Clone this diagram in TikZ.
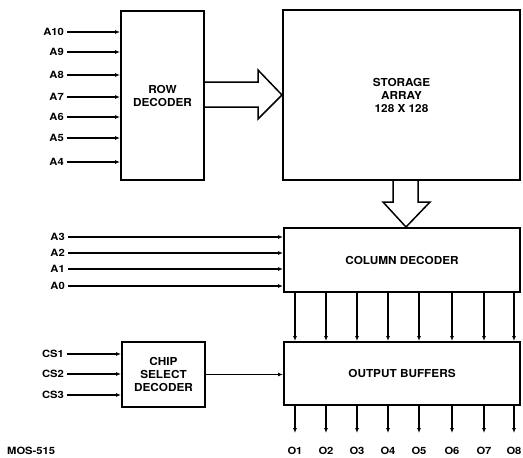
\documentclass[tikz,border=0pt]{standalone}
\usepackage{fontspec}
\usepackage{tikz}
\usetikzlibrary{arrows.meta,calc}
\newfontfamily\heros{TeX Gyre Heros}[FakeStretch=1.12]
\newfontfamily\herosblk{TeX Gyre Heros}[FakeStretch=1.07]
\newcommand\blkfont{\herosblk\bfseries\fontsize{11}{13}\selectfont}
\newcommand\pinfont{\heros\bfseries\fontsize{10}{12}\selectfont}

\begin{document}
\begin{tikzpicture}[x=1pt,y=-1pt,
  % the five blocks of the memory
  blockbox/.style={draw, line width=2pt, inner sep=0pt, align=center, font=\blkfont},
  % pin names at the left and bottom
  pinlbl/.style={anchor=east, inner xsep=3pt, inner ysep=0pt, font=\pinfont},
  sig/.style={line width=1.4pt, -{Latex[length=5pt,width=4pt]}},
  fatarrow/.style={line width=1.5pt, line join=miter},
]
\useasboundingbox (0,0) rectangle (523,458);

\node[blockbox, minimum width=83pt, minimum height=169pt] (rowdec) at (162.5,95.5) {ROW\\DECODER};
\node[blockbox, minimum width=237pt, minimum height=170pt] (storage) at (401.5,95) {STORAGE\\ARRAY\\128 X 128};
\node[blockbox, minimum width=236pt, minimum height=64pt] (coldec) at (402,260) {COLUMN DECODER};
\node[blockbox, minimum width=236pt, minimum height=63pt] (outbuf) at (402,373.5) {OUTPUT BUFFERS};
\node[blockbox, minimum width=83pt, minimum height=65pt] (chipsel) at (163.5,374.5) {CHIP\\SELECT\\DECODER};

% row address pins
\foreach \nm/\yy in {A10/32,A9/52,A8/75,A7/97,A6/117,A5/138,A4/162} {
  \node[pinlbl] (\nm) at (67,\yy) {\nm};
  \draw[sig] (\nm.east) -- (rowdec.west |- \nm.east);
}
% column address pins
\foreach \nm/\yy in {A3/237,A2/253,A1/269,A0/286} {
  \node[pinlbl] (\nm) at (68,\yy) {\nm};
  \draw[sig] (\nm.east) -- (coldec.west |- \nm.east);
}
% chip select pins
\foreach \nm/\yy in {CS1/354,CS2/374,CS3/395} {
  \node[pinlbl] (\nm) at (67,\yy) {\nm};
  \draw[sig] (\nm.east) -- (chipsel.west |- \nm.east);
}
\draw[sig, line width=1pt] (chipsel.east) -- (outbuf.west |- chipsel.east);

% data lines and outputs
\foreach \i/\xx in {1/295,2/326,3/357,4/388,5/419,6/452,7/484,8/514} {
  \node[font=\pinfont, inner sep=0pt] (O\i) at (\xx,451) {O\i};
  \coordinate (e\i) at (\xx,433);
  \draw[sig] (coldec.south -| O\i) -- (outbuf.north -| O\i);
  \draw[sig] (outbuf.south -| O\i) -- (e\i);
}

% wide arrows between blocks
\draw[fatarrow] (rowdec.east |- 0,82) -- (258,82) -- (258,70) -- (storage.west |- 0,95)
  -- (258,119) -- (258,107) -- (rowdec.east |- 0,107);
\draw[fatarrow] (393,0 |- storage.south) -- (393,202) -- (383,202) -- (406,0 |- coldec.north)
  -- (430,202) -- (418,202) -- (418,0 |- storage.south);

\node[font=\pinfont, anchor=west, inner sep=0pt] (figno) at (7,451) {MOS-515};
\end{tikzpicture}
\end{document}
